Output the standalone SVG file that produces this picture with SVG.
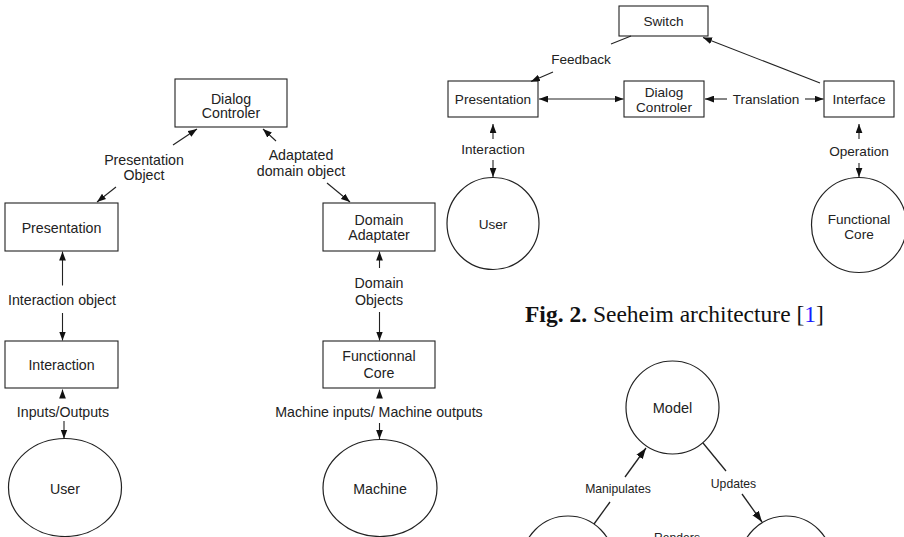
<svg xmlns="http://www.w3.org/2000/svg" width="904" height="537" viewBox="0 0 904 537">
<defs>
<marker id="ah" markerUnits="userSpaceOnUse" markerWidth="9" markerHeight="7" refX="8" refY="3" orient="auto-start-reverse" viewBox="0 0 8 6">
<path d="M0,0 L8,3 L0,6 z" fill="#111"/>
</marker>
<marker id="ahb" markerUnits="userSpaceOnUse" markerWidth="11" markerHeight="8" refX="10" refY="3.5" orient="auto" viewBox="0 0 10 7">
<path d="M0,0 L10,3.5 L0,7 z" fill="#111"/>
</marker>
<style>
.box{fill:#fff;stroke:#222;stroke-width:1.1}
.ell{fill:#fff;stroke:#222;stroke-width:1.2}
.t{font-family:"Liberation Sans",Arial,Helvetica,sans-serif;font-size:14.2px;fill:#222;text-anchor:middle}
.t2{font-family:"Liberation Sans",Arial,Helvetica,sans-serif;font-size:13.6px;fill:#222;text-anchor:middle}
.t3{font-family:"Liberation Sans",Arial,Helvetica,sans-serif;font-size:12.2px;fill:#222;text-anchor:middle}
.c{fill:none;stroke:#222;stroke-width:1.1}
.a{fill:none;stroke:#222;stroke-width:1.1;marker-end:url(#ah)}
.d{fill:none;stroke:#222;stroke-width:1.1;marker-end:url(#ah);marker-start:url(#ah)}
.ab{fill:none;stroke:#222;stroke-width:1.3;marker-end:url(#ahb)}
.cap{font-family:"Liberation Serif","Times New Roman",serif;font-size:23.5px;fill:#111}
</style>
</defs>

<!-- Left diagram -->
<g id="dialog-controler-l"><rect class="box" x="175" y="79" width="112" height="48"/><text class="t" x="231" y="103.5">Dialog</text><text class="t" x="231" y="118">Controler</text></g>
<g id="presentation-l"><rect class="box" x="5" y="203" width="113" height="48"/><text class="t" x="61.5" y="232.5">Presentation</text></g>
<g id="domain-adaptater"><rect class="box" x="323" y="203" width="112" height="48"/><text class="t" x="379" y="225">Domain</text><text class="t" x="379" y="240">Adaptater</text></g>
<g id="interaction-l"><rect class="box" x="5" y="341" width="113" height="47"/><text class="t" x="61.5" y="369.5">Interaction</text></g>
<g id="functionnal-core"><rect class="box" x="323" y="341" width="112" height="47"/><text class="t" x="379" y="361">Functionnal</text><text class="t" x="379" y="377.5">Core</text></g>
<g id="user-l"><ellipse class="ell" cx="65" cy="487.5" rx="56.5" ry="49"/><text class="t" x="65" y="493.5">User</text></g>
<g id="machine"><ellipse class="ell" cx="380" cy="488" rx="57" ry="48.5"/><text class="t" x="380" y="493.5">Machine</text></g>

<!-- Top-right diagram -->
<g id="switch"><rect class="box" x="619" y="6" width="89" height="30"/><text class="t2" x="663.5" y="25.5">Switch</text></g>
<g id="presentation-r"><rect class="box" x="448" y="81" width="90" height="36"/><text class="t2" x="493" y="103.5">Presentation</text></g>
<g id="dialog-controler-r"><rect class="box" x="624" y="81" width="80" height="36"/><text class="t2" x="664" y="97">Dialog</text><text class="t2" x="664" y="111.5">Controler</text></g>
<g id="interface"><rect class="box" x="824" y="81" width="70" height="36"/><text class="t2" x="859" y="103.5">Interface</text></g>
<g id="user-r"><circle class="ell" cx="493" cy="223.5" r="46"/><text class="t2" x="493" y="229">User</text></g>
<g id="functional-core"><circle class="ell" cx="859" cy="225" r="47.5"/><text class="t2" x="859" y="223.5">Functional</text><text class="t2" x="859" y="239">Core</text></g>

<!-- Bottom-right diagram -->
<g id="model"><circle class="ell" cx="672.5" cy="407.5" r="46.5"/><text class="t" x="672.5" y="413.3" style="font-size:14.5px">Model</text></g>
<g id="controller-circle"><circle class="ell" cx="568" cy="562" r="46"/></g>
<g id="view-circle"><circle class="ell" cx="786" cy="562" r="46"/></g>

<g id="connectors">
<!-- left -->
<line class="c" x1="173" y1="145" x2="197" y2="129" style="marker-end:url(#ah)"/>
<line class="a" x1="116" y1="187" x2="97" y2="202"/>
<line class="a" x1="276" y1="141" x2="263" y2="129"/>
<line class="a" x1="327" y1="183" x2="350" y2="202"/>
<line class="a" x1="62.5" y1="285.5" x2="62.5" y2="251.5"/>
<line class="a" x1="62.5" y1="313" x2="62.5" y2="340.5"/>
<line class="a" x1="62.5" y1="397" x2="62.5" y2="389.5"/>
<line class="a" x1="64" y1="421" x2="64" y2="438.5"/>
<line class="a" x1="379.5" y1="268" x2="379.5" y2="251.5"/>
<line class="a" x1="379.5" y1="312" x2="379.5" y2="340.5"/>
<line class="a" x1="379.5" y1="398" x2="379.5" y2="389.5"/>
<line class="a" x1="379.5" y1="423" x2="379.5" y2="439"/>
<!-- top-right -->
<line class="c" x1="631" y1="36" x2="611" y2="44"/>
<line class="a" x1="553" y1="72" x2="531" y2="81.5"/>
<line class="a" x1="820" y1="83" x2="703" y2="37.5"/>
<line class="d" x1="539" y1="99" x2="623.5" y2="99"/>
<line class="a" x1="727" y1="99" x2="705" y2="99"/>
<line class="a" x1="805" y1="99" x2="823.5" y2="99"/>
<line class="a" x1="493" y1="139" x2="493" y2="124"/>
<line class="a" x1="493" y1="160" x2="493" y2="177"/>
<line class="a" x1="859" y1="139" x2="859" y2="124"/>
<line class="a" x1="859" y1="163" x2="859" y2="177"/>
<!-- bottom-right -->
<line class="c" x1="594" y1="524" x2="610" y2="502" style="stroke-width:1.3"/>
<line class="ab" x1="625" y1="477" x2="646" y2="448"/>
<line class="c" x1="703" y1="443" x2="726" y2="471" style="stroke-width:1.3"/>
<line class="ab" x1="742" y1="494" x2="762" y2="522"/>
</g>

<!-- labels -->
<g id="labels">
<text class="t" x="144" y="164.5">Presentation</text>
<text class="t" x="144" y="180">Object</text>
<text class="t" x="301" y="159.5">Adaptated</text>
<text class="t" x="301" y="175.5">domain object</text>
<text class="t" x="62" y="305">Interaction object</text>
<text class="t" x="379" y="287.5">Domain</text>
<text class="t" x="379" y="305">Objects</text>
<text class="t" x="63" y="416.5">Inputs/Outputs</text>
<text class="t" x="379" y="417">Machine inputs/ Machine outputs</text>
<text class="t2" x="581" y="64">Feedback</text>
<text class="t2" x="766" y="103.5">Translation</text>
<text class="t2" x="493" y="153.5">Interaction</text>
<text class="t2" x="859" y="155.5">Operation</text>
<text class="t3" x="618" y="493">Manipulates</text>
<text class="t3" x="733.5" y="487.5">Updates</text>
<text class="t3" x="677" y="541.5">Renders</text>
</g>

<text class="cap" x="525" y="321.5"><tspan font-weight="bold">Fig. 2.</tspan> Seeheim architecture [<tspan fill="#1a1aff">1</tspan>]</text>
</svg>
